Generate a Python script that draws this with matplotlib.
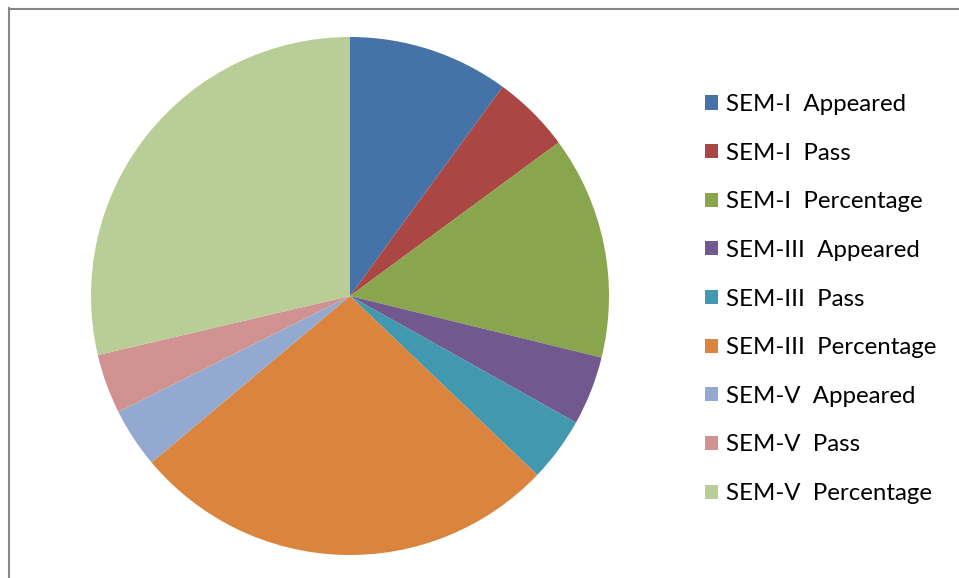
import numpy as np
import matplotlib
matplotlib.use('Agg')
import matplotlib.pyplot as plt
from matplotlib.lines import Line2D

plt.rcParams['font.family'] = ['Lato', 'DejaVu Sans']

# data
labels = ['SEM-I  Appeared', 'SEM-I  Pass', 'SEM-I  Percentage',
          'SEM-III  Appeared', 'SEM-III  Pass', 'SEM-III  Percentage',
          'SEM-V  Appeared', 'SEM-V  Pass', 'SEM-V  Percentage']
values = [35, 17, 48.57, 15, 14, 93.33, 13, 13, 100]
colors = ['#4572A7', '#AA4643', '#89A54E', '#71588F', '#4198AF',
          '#DB843D', '#93A9CF', '#D19392', '#B9CD96']

W, H = 959, 578
fig = plt.figure(figsize=(W/100., H/100.), dpi=100)

# pie centre (350,296) r=259 in pixels
cx, cy, r = 350, 296, 259
ax = fig.add_axes([(cx-r)/W, (H-cy-r)/H, 2*r/W, 2*r/H])
wedges, _ = ax.pie(values, colors=colors, startangle=90, counterclock=False,
                   radius=1, wedgeprops=dict(linewidth=0))
ax.set_xlim(-1, 1)
ax.set_ylim(-1, 1)
ax.set_aspect('equal')
ax.axis('off')

# chart border (gray, partly cut off at right/bottom)
fig.add_artist(Line2D([8.5/W, 8.5/W], [0, 1-8/H], color='#868686', lw=1.5,
                      transform=fig.transFigure))
fig.add_artist(Line2D([8.5/W, 1], [1-8.5/H, 1-8.5/H], color='#868686', lw=1.5,
                      transform=fig.transFigure))

leg = fig.legend(wedges, labels, loc='upper left',
                 bbox_to_anchor=(693/W, 1-82/H), frameon=False,
                 fontsize=17.3, handlelength=0.52, handleheight=0.52,
                 handletextpad=0.36, labelspacing=1.15, borderpad=0)

plt.savefig('out.png', dpi=100)
plt.close()
